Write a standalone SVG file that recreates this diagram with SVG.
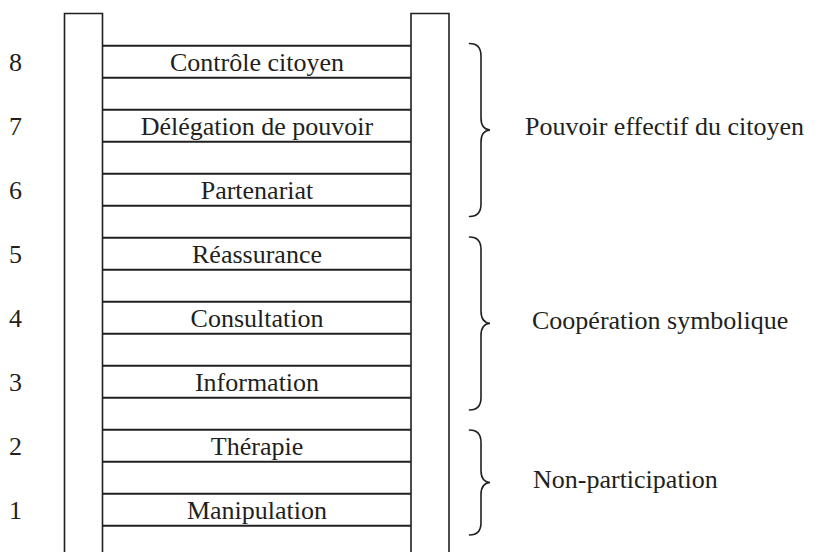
<svg xmlns="http://www.w3.org/2000/svg" width="821" height="552" viewBox="0 0 821 552">
<style>
.rail{fill:none;stroke:#231f20;stroke-width:1.6}
.rung{stroke:#231f20;stroke-width:2}
.brace{fill:none;stroke:#231f20;stroke-width:1.6;stroke-linecap:round}
text{font-family:"Liberation Serif","Times New Roman",serif;font-size:26px;fill:#231f20}
.lbl{text-anchor:middle}
</style>
<rect width="821" height="552" fill="#ffffff"/>
<g id="ladder">
<path class="rail" d="M64.5,560 V13.5 H102.5 V560"/>
<path class="rail" d="M411,560 V13.5 H449 V560"/>
</g>
<g id="connectors">
<line class="rung" x1="102.5" y1="45.7" x2="411" y2="45.7"/>
<line class="rung" x1="102.5" y1="77.7" x2="411" y2="77.7"/>
<line class="rung" x1="102.5" y1="109.7" x2="411" y2="109.7"/>
<line class="rung" x1="102.5" y1="141.7" x2="411" y2="141.7"/>
<line class="rung" x1="102.5" y1="173.7" x2="411" y2="173.7"/>
<line class="rung" x1="102.5" y1="205.7" x2="411" y2="205.7"/>
<line class="rung" x1="102.5" y1="237.7" x2="411" y2="237.7"/>
<line class="rung" x1="102.5" y1="269.7" x2="411" y2="269.7"/>
<line class="rung" x1="102.5" y1="301.7" x2="411" y2="301.7"/>
<line class="rung" x1="102.5" y1="333.7" x2="411" y2="333.7"/>
<line class="rung" x1="102.5" y1="365.7" x2="411" y2="365.7"/>
<line class="rung" x1="102.5" y1="397.7" x2="411" y2="397.7"/>
<line class="rung" x1="102.5" y1="429.7" x2="411" y2="429.7"/>
<line class="rung" x1="102.5" y1="461.7" x2="411" y2="461.7"/>
<line class="rung" x1="102.5" y1="493.7" x2="411" y2="493.7"/>
<line class="rung" x1="102.5" y1="525.7" x2="411" y2="525.7"/>
</g>
<g id="rung8"><text x="9" y="70.5">8</text><text class="lbl" x="257" y="70.5">Contrôle citoyen</text></g>
<g id="rung7"><text x="9" y="134.5">7</text><text class="lbl" x="257" y="134.5">Délégation de pouvoir</text></g>
<g id="rung6"><text x="9" y="198.5">6</text><text class="lbl" x="257" y="198.5">Partenariat</text></g>
<g id="rung5"><text x="9" y="262.5">5</text><text class="lbl" x="257" y="262.5">Réassurance</text></g>
<g id="rung4"><text x="9" y="326.5">4</text><text class="lbl" x="257" y="326.5">Consultation</text></g>
<g id="rung3"><text x="9" y="390.5">3</text><text class="lbl" x="257" y="390.5">Information</text></g>
<g id="rung2"><text x="9" y="454.5">2</text><text class="lbl" x="257" y="454.5">Thérapie</text></g>
<g id="rung1"><text x="9" y="518.5">1</text><text class="lbl" x="257" y="518.5">Manipulation</text></g>
<g id="group-pouvoir">
<path class="brace" d="M469.5,43.5 C476.5,43.5 481,47 481,56 L481,118 C481,126 484,129.5 490,130 C484,130.5 481,134 481,142 L481,204 C481,213 476.5,216.5 469.5,216.5"/>
<text x="525" y="135">Pouvoir effectif du citoyen</text>
</g>
<g id="group-cooperation">
<path class="brace" d="M469.5,237 C476.5,237 481,240.5 481,249.5 L481,311 C481,319 484,322.8 490,323.3 C484,323.8 481,327.5 481,335.5 L481,397.5 C481,406.5 476.5,410 469.5,410"/>
<text x="532" y="329">Coopération symbolique</text>
</g>
<g id="group-non">
<path class="brace" d="M469.5,430 C476.5,430 481,433.5 481,442.5 L481,470.5 C481,478.5 484,482 490,482.5 C484,483 481,486.5 481,494.5 L481,522.5 C481,531.5 476.5,535 469.5,535"/>
<text x="533" y="488">Non-participation</text>
</g>
</svg>
